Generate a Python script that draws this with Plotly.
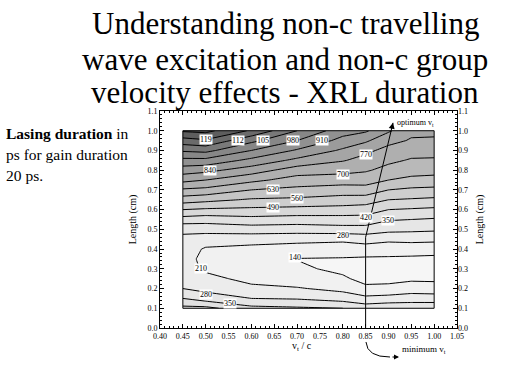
import plotly.graph_objects as go

# ---- data ----
x_vals = [0.45, 0.50, 0.60, 0.70, 0.80, 0.85, 0.90, 0.95, 1.00]
y_vals = [0.10, 0.15, 0.20, 0.25, 0.30, 0.35, 0.40, 0.45, 0.50, 0.55,
          0.60, 0.65, 0.70, 0.75, 0.80, 0.85, 0.90, 0.95, 1.00]
# lasing duration (ps) columns, bottom (y=0.10) to top (y=1.00)
col_045 = [440, 350, 280, 255, 242, 238, 245, 262, 298, 390, 490, 595, 690, 790, 875, 960, 1060, 1160, 1270]
col_050 = [440, 315, 260, 230, 198, 190, 202, 245, 305, 380, 480, 580, 680, 770, 860, 960, 1070, 1180, 1280]
col_060 = [370, 280, 226, 190, 170, 162, 190, 238, 315, 397, 474, 552, 630, 718, 805, 892, 980, 1068, 1180]
col_070 = [360, 274, 216, 170, 152, 138, 175, 234, 311, 389, 467, 546, 611, 671, 735, 823, 902, 980, 1050]
col_080 = [350, 250, 190, 150, 125, 135, 175, 224, 322, 392, 462, 532, 595, 664, 722, 775, 829, 887, 940]
col_085 = [320, 228, 154, 120, 115, 130, 180, 238, 322, 392, 455, 525, 602, 660, 708, 747, 786, 852, 920]
col_090 = [330, 238, 154, 125, 115, 130, 172, 225, 302, 356, 420, 490, 560, 630, 679, 714, 749, 790, 850]
col_095 = [330, 245, 175, 128, 112, 128, 170, 231, 296, 350, 413, 483, 546, 614, 656, 694, 724, 764, 785]
col_100 = [330, 245, 168, 128, 110, 126, 165, 228, 291, 343, 406, 476, 541, 607, 653, 692, 723, 764, 780]
columns = [col_045, col_050, col_060, col_070, col_080, col_085, col_090, col_095, col_100]

contour_start, contour_end, contour_step = 140, 1260, 70

label_text = ["119", "112", "105", "980", "910", "840", "770", "700", "630", "560",
              "490", "420", "350", "280", "140", "210", "280", "350"]
label_x = [0.50, 0.57, 0.625, 0.69, 0.755, 0.51, 0.85, 0.80, 0.647, 0.70,
           0.647, 0.85, 0.90, 0.80, 0.695, 0.49, 0.50, 0.553]
label_y = [0.955, 0.95, 0.95, 0.95, 0.95, 0.80, 0.88, 0.78, 0.70, 0.655,
           0.61, 0.56, 0.545, 0.47, 0.355, 0.30, 0.17, 0.125]

# optimum / minimum v_t guide line
opt_x = [0.85, 0.85, 0.91]
opt_y = [0.0, 0.46, 1.04]

title_lines = ["Understanding non-c travelling",
               "wave excitation and non-c group",
               "velocity effects - XRL duration"]

z = [list(row) for row in zip(*columns)]

SERIF = "Liberation Serif, Times New Roman, serif"

fig = go.Figure()
fig.add_trace(go.Contour(
    x=x_vals, y=y_vals, z=z,
    contours=dict(start=contour_start, end=contour_end, size=contour_step,
                  coloring="fill", showlabels=False),
    colorscale=[[0, "#f6f6f6"], [0.25, "#e0e0e0"], [0.5, "#b4b4b4"],
                [0.75, "#8a8a8a"], [1, "#505050"]],
    zmin=100, zmax=1300,
    line=dict(color="black", width=1, smoothing=0),
    showscale=False, hoverinfo="skip",
))
fig.add_trace(go.Scatter(x=opt_x, y=opt_y, mode="lines",
                         line=dict(color="black", width=1), showlegend=False,
                         hoverinfo="skip"))
fig.add_trace(go.Scatter(x=[opt_x[0]], y=[opt_y[0]], yaxis="y2", mode="markers",
                         marker=dict(opacity=0), showlegend=False, hoverinfo="skip"))

# frame of contour region
fig.add_shape(type="rect", xref="x", yref="y",
              x0=min(x_vals), x1=max(x_vals), y0=min(y_vals), y1=max(y_vals),
              line=dict(color="black", width=1))

ann = []
for t, xx, yy in zip(label_text, label_x, label_y):
    ann.append(dict(x=xx, y=yy, xref="x", yref="y", text=t, showarrow=False,
                    font=dict(family=SERIF, size=8, color="black"),
                    bgcolor="white", borderpad=0))

# arrow head of optimum line
ann.append(dict(x=opt_x[2], y=opt_y[2], xref="x", yref="y",
                ax=opt_x[2] - 0.004, ay=opt_y[2] - 0.04, axref="x", ayref="y",
                text="", showarrow=True, arrowhead=2, arrowsize=1.2, arrowwidth=1,
                arrowcolor="black"))
ann.append(dict(x=opt_x[2] + 0.005, y=opt_y[2], xref="x", yref="y",
                text="optimum v<sub>t</sub>", showarrow=False, xanchor="left",
                font=dict(family=SERIF, size=8, color="black")))

# titles
title_y = [23, 59, 92]
for t, py in zip(title_lines, title_y):
    ann.append(dict(x=285 / 512, y=1 - py / 384, xref="paper", yref="paper",
                    text=t, showarrow=False, xanchor="center", yanchor="middle",
                    font=dict(family=SERIF, size=31, color="black")))

side_lines = ["<b>Lasing duration</b> in", "ps for gain duration", "20 ps."]
for t, py in zip(side_lines, [133, 155, 176]):
    ann.append(dict(x=4 / 512, y=1 - py / 384, xref="paper", yref="paper",
                    text=t, showarrow=False, xanchor="left", yanchor="middle",
                    font=dict(family=SERIF, size=15.5, color="black")))

ann.append(dict(x=302 / 512, y=1 - 355 / 384, xref="paper", yref="paper",
                text="v<sub>t</sub> / c", showarrow=False,
                font=dict(family=SERIF, size=10, color="black")))
ann.append(dict(x=400 / 512, y=1 - 357 / 384, xref="paper", yref="paper",
                text="minimum v<sub>t</sub>", showarrow=False, xanchor="left",
                font=dict(family=SERIF, size=9, color="black")))
ann.append(dict(x=399 / 512, y=1 - 357 / 384, xref="paper", yref="paper",
                ax=-8, ay=0, text="", showarrow=True, arrowhead=2, arrowsize=1,
                arrowwidth=1, arrowcolor="black"))

fig.add_shape(type="path", xref="paper", yref="paper",
              path="M 0.7148,0.1094 Q 0.7168,0.0703 0.7617,0.0703",
              line=dict(color="black", width=1))

tickfont = dict(family=SERIF, size=8, color="black")
fig.update_layout(
    width=512, height=384, margin=dict(l=0, r=0, t=0, b=0, autoexpand=False),
    paper_bgcolor="white", plot_bgcolor="white", showlegend=False,
    annotations=ann,
    xaxis=dict(domain=[160 / 512, 457 / 512], range=[0.40, 1.05], automargin=False,
               tick0=0.40, dtick=0.05, tickformat=".2f", ticks="inside",
               ticklen=4, tickcolor="black", showline=True, linecolor="black",
               linewidth=1, mirror="ticks", showgrid=False, zeroline=False,
               tickfont=tickfont,
               minor=dict(dtick=0.01, ticks="inside", ticklen=2, tickcolor="black")),
    yaxis=dict(domain=[56 / 384, 273 / 384], range=[0, 1.1], automargin=False,
               tick0=0, dtick=0.1, tickformat=".1f", ticks="inside",
               ticklen=4, tickcolor="black", showline=True, linecolor="black",
               linewidth=1, mirror="ticks", showgrid=False, zeroline=False,
               tickfont=tickfont,
               title=dict(text="Length (cm)", font=dict(family=SERIF, size=10, color="black"),
                          standoff=8),
               minor=dict(dtick=0.02, ticks="inside", ticklen=2, tickcolor="black")),
    yaxis2=dict(overlaying="y", side="right", range=[0, 1.1], anchor="x", automargin=False,
                tick0=0, dtick=0.1, tickformat=".1f", ticks="", showline=False,
                showgrid=False, zeroline=False, tickfont=tickfont,
                title=dict(text="Length (cm)", font=dict(family=SERIF, size=10, color="black"),
                           standoff=8)),
)

fig.write_html("out.html", config={"displayModeBar": False},
               post_script="document.body.style.margin='0px';document.body.style.overflow='hidden';")
